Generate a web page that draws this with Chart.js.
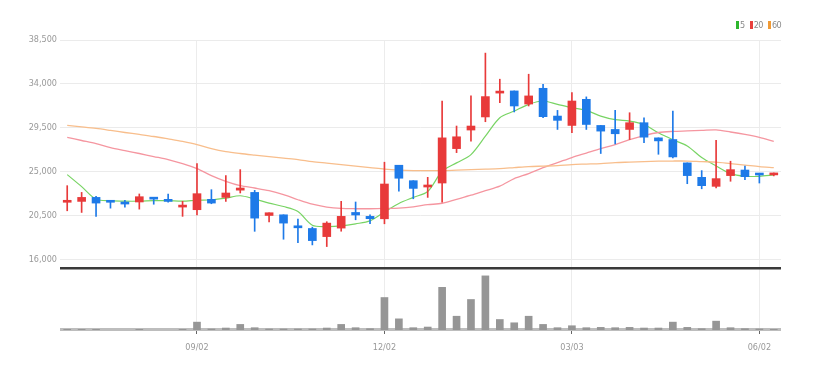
<!DOCTYPE html>
<html><head><meta charset="utf-8">
<script src="https://cdn.jsdelivr.net/npm/chart.js@4/dist/chart.umd.min.js"></script>
<style>
html,body{margin:0;padding:0;background:#fff;}
#wrap{position:relative;width:818px;height:372px;overflow:hidden;}
#c{position:absolute;left:0;top:0;}
#legend{position:absolute;top:20px;left:736px;font:9px 'Liberation Sans Narrow','DejaVu Sans Condensed',sans-serif;color:#8a8a8a;white-space:nowrap;line-height:10px;letter-spacing:-0.5px;}
#legend .b{display:inline-block;width:3px;height:8px;vertical-align:-1px;margin-right:1px;}
#legend .g{margin-left:5px;}
</style></head><body>
<div id="wrap"><canvas id="c" width="818" height="372"></canvas>
<div id="legend"><span class="b" style="background:#2db62d"></span>5<span class="b g" style="background:#e8403c"></span>20<span class="b g" style="background:#f09a35"></span>60</div></div>
<script>
const dates = ['07/01','07/08','07/15','07/22','07/29','08/05','08/12','08/19','08/26','09/02','09/09','09/16','09/23','09/30','10/07','10/14','10/21','10/28','11/04','11/11','11/18','11/25','12/02','12/09','12/16','12/23','12/30','01/06','01/13','01/20','01/27','02/03','02/10','02/17','02/24','03/03','03/10','03/17','03/24','03/31','04/07','04/14','04/21','04/28','05/05','05/12','05/19','05/26','06/02','06/09'];
const shownDates = ['09/02','12/02','03/03','06/02'];
const yTicks = [16000,20500,25000,29500,34000,38500];

const opens  = [21900,21990,22400,21990,21930,21930,22360,22200,21410,21140,22200,22400,23140,22910,20550,20620,19420,19220,18390,19260,20860,20460,20210,25690,24110,23460,23870,27390,29290,30630,33070,33290,31950,33560,30720,29760,32430,29760,29350,29350,30040,28490,28320,25930,24450,23530,24630,25200,24830,24700];
const highs  = [23600,22910,22500,22100,22100,22750,22400,22750,22000,25860,23190,24630,25240,23120,20830,20620,20180,19360,19910,22000,21930,20620,26000,25690,24110,24450,32260,29700,32780,37160,34490,33290,35000,33970,31300,33120,32680,29760,31300,31060,30550,28490,31230,25930,25140,28250,26100,25610,24830,24900];
const lows   = [21030,20860,20460,21300,21400,21200,21700,21900,20460,20620,21750,22000,22850,18930,19890,18120,17770,17540,17370,18940,20110,19700,19700,23040,22260,22400,21910,26980,28160,30140,32090,31140,31750,30550,29350,29010,29350,26890,27870,28320,28000,26810,26440,23800,23280,23360,24050,24220,23870,24600];
const closes = [22000,22400,21820,21900,21720,22470,22220,21990,21550,22780,21820,22850,23360,20280,20830,19770,19290,17980,19770,20460,20600,20220,23770,24360,23320,23670,28490,28600,29700,32710,33230,31750,32780,30660,30280,32260,29860,29180,28910,30040,28560,28180,26540,24630,23600,24320,25240,24520,24690,24760];
const volumes = [2,2,2,null,null,2,null,null,2,24,3,6,17,7,3,3,3,3,6,17,7,4,99,34,7,9,130,42,93,165,32,22,42,17,7,13,7,8,7,8,6,6,24,8,4,27,7,4,3,2];

const ma5  = [24730,23500,22210,22060,22010,22010,22060,22060,22010,22110,22160,22330,22570,22230,21820,21470,20960,19560,19420,19490,19700,20000,20900,21780,22400,23000,25070,25930,26780,28660,30550,31230,31920,32260,31920,31580,31300,30720,30350,30210,29860,29010,28300,27660,26470,25610,24830,24560,24560,24700];
const ma20 = [28530,28220,27910,27500,27190,26890,26580,26270,25860,25350,24630,24040,23600,23360,23090,22680,22160,21700,21410,21270,21240,21240,21270,21310,21440,21650,21800,22210,22620,23090,23550,24320,24830,25450,25960,26480,26940,27400,27810,28320,28730,29040,29150,29200,29250,29300,29090,28840,28530,28120];
const ma60 = [29760,29610,29450,29250,29040,28840,28630,28380,28120,27810,27400,27090,26890,26730,26580,26420,26270,26060,25910,25760,25600,25450,25290,25190,25140,25140,25140,25190,25240,25290,25350,25450,25550,25600,25650,25760,25810,25860,25960,26010,26060,26100,26120,26120,26060,26010,25860,25710,25550,25450];

const RED = 'rgb(232,58,58)', BLUE = 'rgb(30,122,232)';
const candleColors = closes.map((c,i)=> c >= opens[i] ? RED : BLUE);
const FONT = "'Liberation Sans Narrow','DejaVu Sans Condensed',sans-serif";

const panelLines = {
  id:'panelLines',
  beforeDatasetsDraw(chart){
    const ctx = chart.ctx, a = chart.chartArea, yv = chart.scales.yv;
    ctx.save();
    ctx.fillStyle = '#bdbdbd';
    ctx.fillRect(a.left, yv.bottom-2, a.right-a.left, 3);
    ctx.restore();
  },
  afterDraw(chart){
    const ctx = chart.ctx, a = chart.chartArea, y = chart.scales.y;
    ctx.save();
    ctx.fillStyle = '#3a3a3a';
    ctx.fillRect(a.left, y.bottom-1, a.right-a.left, 2.5);
    ctx.restore();
  }
};

new Chart(document.getElementById('c'), {
  type:'bar',
  data:{
    labels: dates,
    datasets:[
      {type:'line', label:'60', data: ma60, yAxisID:'y', borderColor:'rgba(248,190,140,1)', borderWidth:1.3, pointRadius:0, tension:0.3, order:3},
      {type:'line', label:'20', data: ma20, yAxisID:'y', borderColor:'rgba(245,150,160,1)', borderWidth:1.3, pointRadius:0, tension:0.3, order:3},
      {type:'line', label:'5', data: ma5, yAxisID:'y', borderColor:'rgba(120,212,100,1)', borderWidth:1.2, pointRadius:0, tension:0.3, order:3},
      {label:'wick', data: lows.map((l,i)=>[l, highs[i]]), yAxisID:'y', backgroundColor: candleColors, barThickness:1, grouped:false, order:1},
      {label:'body', data: opens.map((o,i)=>[o, closes[i]]), yAxisID:'y', backgroundColor: candleColors, barThickness:8, minBarLength:2, grouped:false, order:0},
      {label:'vol', data: volumes, yAxisID:'yv', backgroundColor:'rgb(150,150,150)', barThickness:7, grouped:false, order:2}
    ]
  },
  options:{
    responsive:false, animation:false, devicePixelRatio:1,
    layout:{padding:{top:40,right:37,bottom:0,left:0}},
    plugins:{legend:{display:false}, tooltip:{enabled:false}},
    scales:{
      x:{
        offset:true,
        grid:{offset:false, drawTicks:true, tickLength:4,
          color: c => (c.index!==undefined && shownDates.includes(dates[c.index])) ? '#ececec' : 'rgba(0,0,0,0)',
          tickColor: c => (c.index!==undefined && shownDates.includes(dates[c.index])) ? '#666' : 'rgba(0,0,0,0)'},
        border:{display:false},
        ticks:{autoSkip:false, maxRotation:0, minRotation:0, padding:8, color:'#999', font:{family:FONT, size:9},
          callback:(v,i)=> shownDates.includes(dates[i]) ? dates[i] : ''},
        afterFit: s => { s.height = 42; }
      },
      yv:{
        stack:'main', stackWeight:62, position:'left', min:0, max:189,
        grid:{display:false}, border:{display:false}, ticks:{display:false},
        afterFit: s => { s.width = 60; }
      },
      y:{
        stack:'main', stackWeight:228, position:'left', min:15178, max:38500,
        afterBuildTicks: s => { s.ticks = yTicks.map(v=>({value:v})); },
        grid:{color:'#ebebeb', drawTicks:false},
        border:{display:false},
        ticks:{padding:3, color:'#999', font:{family:FONT, size:9}, callback: v => Number(v).toLocaleString('en-US')},
        afterFit: s => { s.width = 60; }
      }
    }
  },
  plugins:[panelLines]
});
</script>
</body></html>
